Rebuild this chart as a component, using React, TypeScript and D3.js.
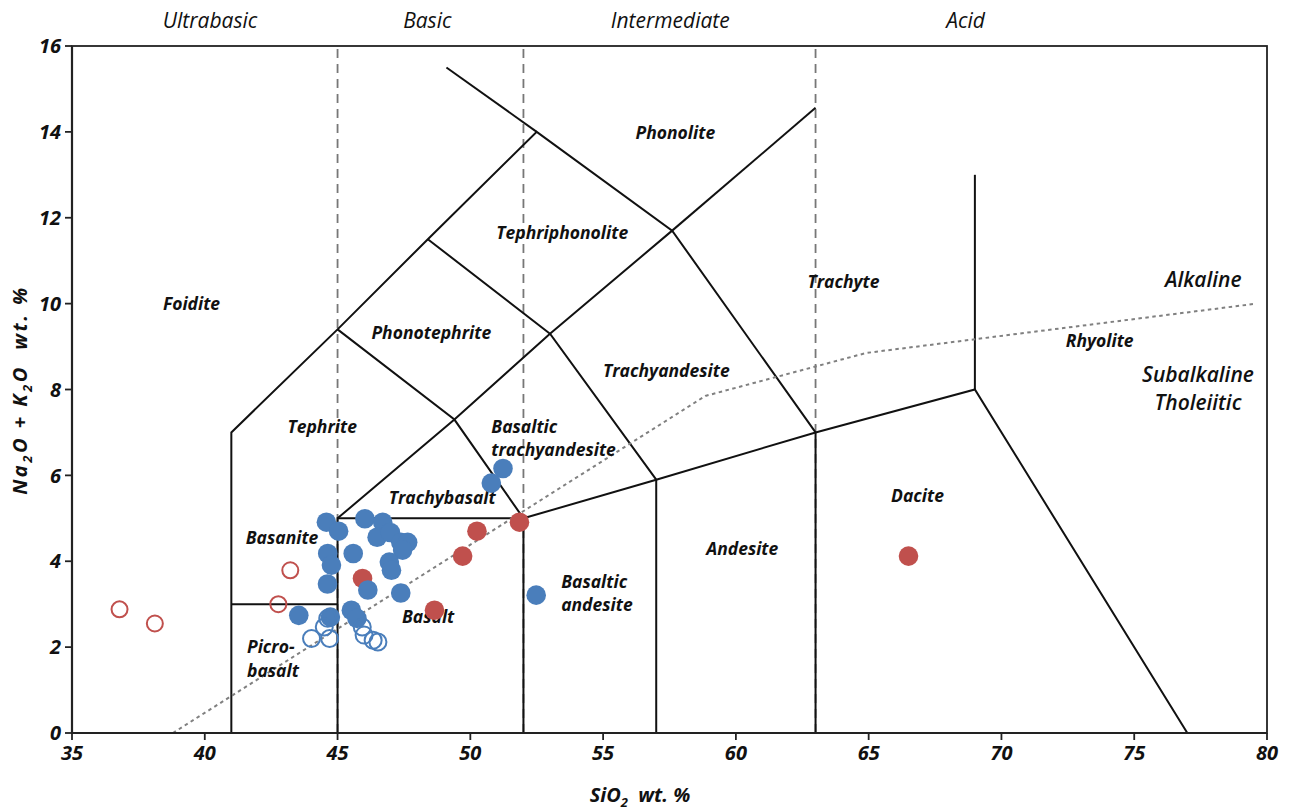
import React from 'react';
import * as d3 from 'd3';

// TAS diagram (SiO2 vs Na2O + K2O)
const xTicks = [35, 40, 45, 50, 55, 60, 65, 70, 75, 80];
const yTicks = [0, 2, 4, 6, 8, 10, 12, 14, 16];

// field boundaries, each one a polyline [SiO2, alkali]
const boundaries: [number, number][][] = [
  [[41, 0], [41, 7], [45, 9.4], [48.4, 11.5], [52.5, 14], [57.6, 11.7], [63, 7], [63, 0]],
  [[41, 3], [45, 3]],
  [[45, 0], [45, 5], [52, 5], [52, 0]],
  [[49.1, 15.5], [52.5, 14]],
  [[57.6, 11.7], [63, 14.56]],
  [[45, 5], [49.4, 7.3], [53, 9.3], [57, 5.9], [57, 0]],
  [[45, 9.4], [49.4, 7.3], [52, 5]],
  [[48.4, 11.5], [53, 9.3], [57.6, 11.7]],
  [[52, 5], [57, 5.9], [63, 7], [69, 8], [77, 0]],
  [[69, 8], [69, 13]],
];

const dashedX = [45, 52, 63];

// alkaline / subalkaline divide
const alkalineLine: [number, number][] = [[38.8, 0], [58.85, 7.85], [64.9, 8.85], [79.6, 10]];

const blueFilled: [number, number][] = [
  [51.23, 6.16], [50.79, 5.82], [44.58, 4.91], [45.04, 4.7], [46.03, 4.99], [46.7, 4.91],
  [46.49, 4.56], [46.99, 4.67], [47.38, 4.44], [47.64, 4.44], [47.45, 4.26], [46.95, 3.98],
  [47.03, 3.79], [45.59, 4.18], [44.63, 4.18], [44.77, 3.91], [44.62, 3.47], [46.14, 3.33],
  [47.38, 3.26], [52.48, 3.21], [43.54, 2.74], [45.52, 2.86], [45.73, 2.67], [44.73, 2.7],
];
const blueOpen: [number, number][] = [
  [44.63, 2.67], [44.5, 2.47], [44.02, 2.2], [44.7, 2.2], [45.93, 2.47], [46.0, 2.28],
  [46.34, 2.16], [46.52, 2.12],
];
const redFilled: [number, number][] = [
  [51.85, 4.91], [50.25, 4.7], [49.71, 4.12], [45.94, 3.6], [48.65, 2.86], [66.5, 4.12],
];
const redOpen: [number, number][] = [
  [43.22, 3.79], [42.77, 3.0], [36.79, 2.88], [38.12, 2.55],
];

const fieldLabels: { text: string; x: number; y: number; anchor: string }[] = [
  { text: 'Foidite', x: 39.5, y: 10, anchor: 'middle' },
  { text: 'Phonolite', x: 57.72, y: 13.97, anchor: 'middle' },
  { text: 'Tephriphonolite', x: 53.46, y: 11.64, anchor: 'middle' },
  { text: 'Phonotephrite', x: 48.53, y: 9.32, anchor: 'middle' },
  { text: 'Trachyte', x: 64.05, y: 10.5, anchor: 'middle' },
  { text: 'Trachyandesite', x: 57.38, y: 8.43, anchor: 'middle' },
  { text: 'Tephrite', x: 44.42, y: 7.13, anchor: 'middle' },
  { text: 'Basaltic', x: 50.79, y: 7.13, anchor: 'start' },
  { text: 'trachyandesite', x: 50.79, y: 6.59, anchor: 'start' },
  { text: 'Trachybasalt', x: 48.94, y: 5.47, anchor: 'middle' },
  { text: 'Basanite', x: 42.91, y: 4.54, anchor: 'middle' },
  { text: 'Basalt', x: 48.41, y: 2.7, anchor: 'middle' },
  { text: 'Basaltic', x: 53.42, y: 3.52, anchor: 'start' },
  { text: 'andesite', x: 53.42, y: 2.98, anchor: 'start' },
  { text: 'Picro-', x: 41.59, y: 2.0, anchor: 'start' },
  { text: 'basalt', x: 41.59, y: 1.44, anchor: 'start' },
  { text: 'Andesite', x: 60.24, y: 4.29, anchor: 'middle' },
  { text: 'Dacite', x: 66.84, y: 5.52, anchor: 'middle' },
  { text: 'Rhyolite', x: 73.7, y: 9.13, anchor: 'middle' },
];

const seriesLabels: { text: string; x: number; y: number }[] = [
  { text: 'Alkaline', x: 77.6, y: 10.57 },
  { text: 'Subalkaline', x: 77.4, y: 8.34 },
  { text: 'Tholeiitic', x: 77.4, y: 7.69 },
];

const silicaClasses: { text: string; x: number }[] = [
  { text: 'Ultrabasic', x: 40.2 },
  { text: 'Basic', x: 48.38 },
  { text: 'Intermediate', x: 57.53 },
  { text: 'Acid', x: 68.65 },
];

const BLUE = '#4a7ebb';
const RED = '#c0504d';
const FONT = '"Open Sans", "Noto Sans", sans-serif';

export default function App() {
  const x = d3.scaleLinear().domain([35, 80]).range([72, 1267]);
  const y = d3.scaleLinear().domain([0, 16]).range([733, 46]);
  const line = d3
    .line<[number, number]>()
    .x((d) => x(d[0]))
    .y((d) => y(d[1]));

  return (
    <div style={{ position: 'absolute', left: 0, top: 0 }}>
      <svg width={1295} height={810} style={{ display: 'block', background: '#fff' }} fontFamily={FONT}>
        {/* frame */}
        <rect x={x(35)} y={y(16)} width={x(80) - x(35)} height={y(0) - y(16)} fill="none" stroke="#222" strokeWidth={1.8} />

        {/* silica class dividers */}
        {dashedX.map((v) => (
          <line key={v} x1={x(v)} x2={x(v)} y1={y(0)} y2={y(16)} stroke="#777" strokeWidth={1.8} strokeDasharray="9,6" />
        ))}

        {/* field boundaries */}
        {boundaries.map((b, i) => (
          <path key={i} d={line(b) || ''} fill="none" stroke="#111" strokeWidth={2} strokeLinejoin="miter" />
        ))}

        {/* alkaline divide */}
        <path d={line(alkalineLine) || ''} fill="none" stroke="#808080" strokeWidth={2} strokeDasharray="3.5,3.5" />

        {/* axes */}
        <line x1={x(35)} x2={x(35)} y1={y(0)} y2={y(16)} stroke="#222" strokeWidth={2.2} />
        <line x1={x(35)} x2={x(80)} y1={y(0)} y2={y(0)} stroke="#222" strokeWidth={2.2} />
        {yTicks.map((t) => (
          <g key={t}>
            <line x1={x(35) - 7} x2={x(35)} y1={y(t)} y2={y(t)} stroke="#222" strokeWidth={1.8} />
            <text x={x(35) - 11} y={y(t)} dy="0.36em" textAnchor="end" fontSize={20} fontWeight="bold" fontStyle="italic" fill="#111">
              {t}
            </text>
          </g>
        ))}
        {xTicks.map((t) => (
          <g key={t}>
            <line x1={x(t)} x2={x(t)} y1={y(0)} y2={y(0) + 7} stroke="#222" strokeWidth={1.8} />
            <text x={x(t)} y={y(0) + 27} textAnchor="middle" fontSize={20} fontWeight="bold" fontStyle="italic" fill="#111">
              {t}
            </text>
          </g>
        ))}

        {/* axis titles */}
        <text x={640} y={802} textAnchor="middle" fontSize={20} fontWeight="bold" fontStyle="italic" fill="#111">
          SiO<tspan fontSize={13} dy={5}>2</tspan>
          <tspan dy={-5}>{'\u00a0\u00a0wt. %'}</tspan>
        </text>
        <text transform="translate(27,390) rotate(-90)" textAnchor="middle" fontSize={20} fontWeight="bold" fontStyle="italic" letterSpacing={2.5} fill="#111">
          Na<tspan fontSize={13} dy={5}>2</tspan>
          <tspan dy={-5}>{'O + K'}</tspan>
          <tspan fontSize={13} dy={5}>2</tspan>
          <tspan dy={-5}>{'O\u00a0\u00a0wt. %'}</tspan>
        </text>

        {/* silica classes */}
        {silicaClasses.map((c) => (
          <text key={c.text} x={x(c.x)} y={y(16) - 18} textAnchor="middle" fontSize={21} fontStyle="italic" fontWeight={500} fill="#111">
            {c.text}
          </text>
        ))}

        {/* field names */}
        {fieldLabels.map((l, i) => (
          <text key={i} x={x(l.x)} y={y(l.y)} dy="0.35em" textAnchor={l.anchor} fontSize={17.5} fontWeight="bold" fontStyle="italic" fill="#111">
            {l.text}
          </text>
        ))}
        {seriesLabels.map((l) => (
          <text key={l.text} x={x(l.x)} y={y(l.y)} dy="0.35em" textAnchor="middle" fontSize={21} fontWeight={600} fontStyle="italic" fill="#111">
            {l.text}
          </text>
        ))}

        {/* samples */}
        {redFilled.map((d, i) => (
          <circle key={'rf' + i} cx={x(d[0])} cy={y(d[1])} r={9.8} fill={RED} />
        ))}
        {blueFilled.map((d, i) => (
          <circle key={'bf' + i} cx={x(d[0])} cy={y(d[1])} r={9.8} fill={BLUE} />
        ))}
        {redOpen.map((d, i) => (
          <circle key={'ro' + i} cx={x(d[0])} cy={y(d[1])} r={8} fill="none" stroke={RED} strokeWidth={2} />
        ))}
        {blueOpen.map((d, i) => (
          <circle key={'bo' + i} cx={x(d[0])} cy={y(d[1])} r={8.5} fill="none" stroke={BLUE} strokeWidth={2} />
        ))}
      </svg>
    </div>
  );
}
